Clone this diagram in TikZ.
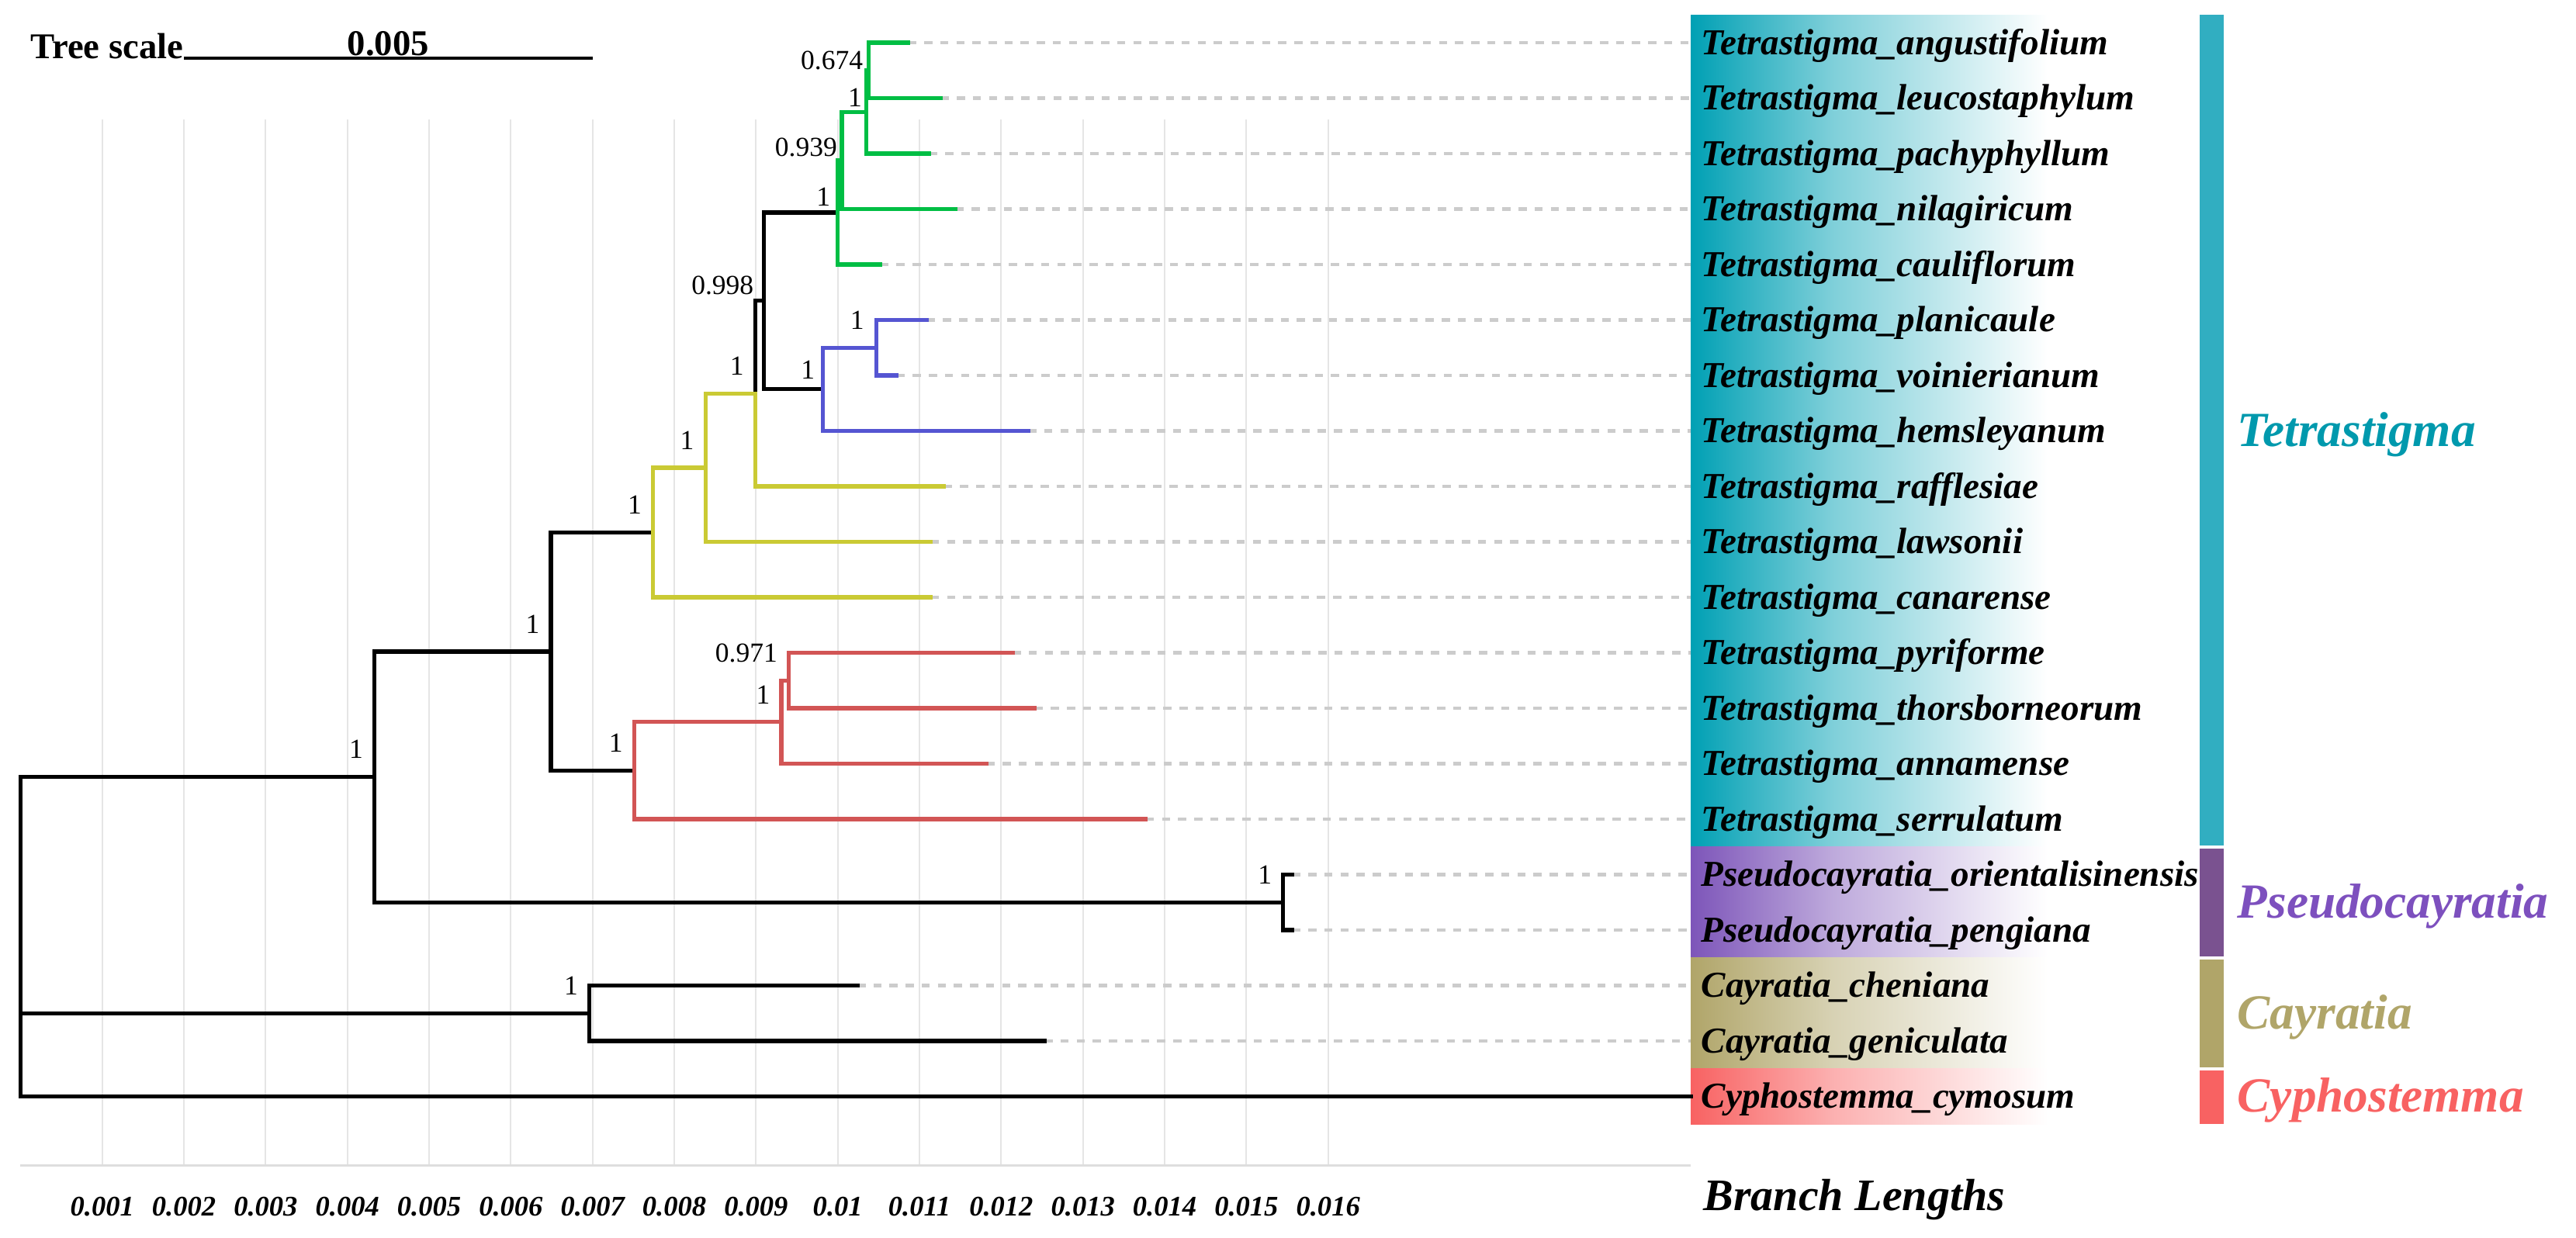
\documentclass[tikz,border=0pt]{standalone}
\usepackage{fontspec}
\setmainfont{Liberation Serif}
\usetikzlibrary{positioning}

\definecolor{grnc}{RGB}{0,190,68}
\definecolor{bluc}{RGB}{85,85,210}
\definecolor{yelc}{RGB}{202,202,52}
\definecolor{redc}{RGB}{210,85,85}
\definecolor{tetc}{RGB}{0,160,180}
\definecolor{tetbar}{RGB}{49,174,193}
\definecolor{tettxt}{RGB}{0,153,173}
\definecolor{psec}{RGB}{125,85,185}
\definecolor{psebar}{RGB}{122,82,144}
\definecolor{psetxt}{RGB}{125,80,190}
\definecolor{cayc}{RGB}{176,165,105}
\definecolor{cyphc}{RGB}{248,98,98}
\colorlet{fadec}{white}
\pgfdeclarehorizontalshading[fadec]{panelfade}{100bp}{color(0bp)=(fadec); color(25bp)=(fadec); color(43bp)=(fadec!50!white); color(70bp)=(white); color(100bp)=(white)}

\begin{document}
\begin{tikzpicture}[x=1cm, y=-0.715cm,
    edge/.style={line width=1.45pt, line cap=rect},
    leader/.style={draw=black!20, line width=1.15pt, dash pattern=on 3pt off 2.9pt},
    gridln/.style={draw=black!10, line width=0.55pt},
    tiplab/.style={anchor=base west, inner sep=0pt, font=\fontsize{13.4pt}{16pt}\selectfont\bfseries\itshape},
    grplab/.style={anchor=base west, inner sep=0pt, font=\fontsize{18pt}{21pt}\selectfont\bfseries\itshape},
    supp/.style={inner sep=0pt, font=\fontsize{10.1pt}{12pt}\selectfont},
    ticklab/.style={anchor=base, inner sep=0pt, font=\fontsize{10.4pt}{12pt}\selectfont\bfseries\itshape}]
  \useasboundingbox (0,0.2308) rectangle (33.2,22.552);

  \coordinate (pl) at (21.79,0.5); % left edge of the label panel

  \begin{scope}[x=1.0533cm, xshift=0.264cm]
    % grid and axis
    \foreach \g in {1,...,16} \draw[gridln] (\g,2.385) -- (\g,21.24);
    \coordinate (ax0) at (0,21.24);
    \coordinate (ax1) at (20.44,21.24);
    \draw[draw=black!13, line width=0.8pt] (ax0) -- (ax1);
    \foreach \g/\t in {1/0.001,2/0.002,3/0.003,4/0.004,5/0.005,6/0.006,7/0.007,8/0.008,
                       9/0.009,10/0.01,11/0.011,12/0.012,13/0.013,14/0.014,15/0.015,16/0.016}
      \node[ticklab] (tk\g) at (\g,22.15) {\t};

    % tree scale
    \coordinate (sb0) at (2,1.28);
    \coordinate (sb1) at (7,1.28);
    \coordinate (sbm) at (4.5,1.224);
    \draw[line width=1.4pt] (sb0) -- (sb1);
    \node[anchor=base east, inner sep=0pt, font=\fontsize{13.3pt}{15pt}\selectfont\bfseries] (tsl) at (sb0) {Tree scale};
    \node[anchor=base, inner sep=0pt, font=\fontsize{13.3pt}{15pt}\selectfont\bfseries] (tsv) at (sbm) {0.005};

    % tips
    \coordinate (t1) at (10.86,1);
    \coordinate (t2) at (11.26,2);
    \coordinate (t3) at (11.12,3);
    \coordinate (t4) at (11.44,4);
    \coordinate (t5) at (10.52,5);
    \coordinate (t6) at (11.09,6);
    \coordinate (t7) at (10.72,7);
    \coordinate (t8) at (12.33,8);
    \coordinate (t9) at (11.30,9);
    \coordinate (t10) at (11.14,10);
    \coordinate (t11) at (11.14,11);
    \coordinate (t12) at (12.14,12);
    \coordinate (t13) at (12.41,13);
    \coordinate (t14) at (11.82,14);
    \coordinate (t15) at (13.77,15);
    \coordinate (t16) at (15.56,16);
    \coordinate (t17) at (15.56,17);
    \coordinate (t18) at (10.24,18);
    \coordinate (t19) at (12.53,19);
    \coordinate (t20) at (20.44,20);

    % inner nodes
    \coordinate (g4) at (10.38,1.5);
    \coordinate (g3) at (10.35,2.25);
    \coordinate (g2) at (10.05,3.125);
    \coordinate (g1) at (10.00,4.0625);
    \coordinate (b2) at (10.47,6.5);
    \coordinate (b1) at (9.82,7.25);
    \coordinate (k) at (9.10,5.656);
    \coordinate (y3) at (8.99,7.328);
    \coordinate (y2) at (8.38,8.664);
    \coordinate (y1) at (7.74,9.832);
    \coordinate (r3) at (9.40,12.5);
    \coordinate (r2) at (9.31,13.25);
    \coordinate (r1) at (7.51,14.125);
    \coordinate (tet) at (6.49,11.979);
    \coordinate (pse) at (15.45,16.5);
    \coordinate (ingr) at (4.33,14.24);
    \coordinate (cay) at (6.96,18.5);
    \coordinate (root) at (0,17.12);

    % leaders to the panel
    \foreach \i in {1,...,19} \draw[leader] (t\i) -- (t\i -| pl);
  \end{scope}

  % label panel
  \colorlet{fadec}{tetc}\shade[shading=panelfade] (21.79,0.5) rectangle (26.9,15.5);
  \colorlet{fadec}{psec}\shade[shading=panelfade] (21.79,15.5) rectangle (26.9,17.5);
  \colorlet{fadec}{cayc}\shade[shading=panelfade] (21.79,17.5) rectangle (26.9,19.5);
  \colorlet{fadec}{cyphc}\shade[shading=panelfade] (21.79,19.5) rectangle (26.9,20.5);

  % branches
  \draw[edge] (root) |- (ingr);
  \draw[edge] (root) |- (cay);
  \draw[edge] (root) |- (t20);
  \draw[edge] (ingr) |- (tet);
  \draw[edge] (ingr) |- (pse);
  \draw[edge] (pse) |- (t16);
  \draw[edge] (pse) |- (t17);
  \draw[edge] (cay) |- (t18);
  \draw[edge] (cay) |- (t19);
  \draw[edge] (tet) |- (y1);
  \draw[edge] (tet) |- (r1);
  \draw[edge] (y3) |- (k);
  \draw[edge] (k) |- (g1);
  \draw[edge] (k) |- (b1);

  \draw[edge, yelc] (y1) |- (y2);
  \draw[edge, yelc] (y1) |- (t11);
  \draw[edge, yelc] (y2) |- (y3);
  \draw[edge, yelc] (y2) |- (t10);
  \draw[edge, yelc] (y3) |- (t9);

  \draw[edge, grnc] (g1) |- (g2);
  \draw[edge, grnc] (g1) |- (t5);
  \draw[edge, grnc] (g2) |- (g3);
  \draw[edge, grnc] (g2) |- (t4);
  \draw[edge, grnc] (g3) |- (g4);
  \draw[edge, grnc] (g3) |- (t3);
  \draw[edge, grnc] (g4) |- (t1);
  \draw[edge, grnc] (g4) |- (t2);

  \draw[edge, bluc] (b1) |- (b2);
  \draw[edge, bluc] (b1) |- (t8);
  \draw[edge, bluc] (b2) |- (t6);
  \draw[edge, bluc] (b2) |- (t7);

  \draw[edge, redc] (r1) |- (r2);
  \draw[edge, redc] (r1) |- (t15);
  \draw[edge, redc] (r2) |- (r3);
  \draw[edge, redc] (r2) |- (t14);
  \draw[edge, redc] (r3) |- (t12);
  \draw[edge, redc] (r3) |- (t13);

  % support values
  \node[supp, above left=0.23cm and 0.14cm of ingr] (sIngr) {1};
  \node[supp, above left=0.23cm and 0.14cm of tet] (sTet) {1};
  \node[supp, above left=0.23cm and 0.14cm of y1] (sY1) {1};
  \node[supp, above left=0.23cm and 0.14cm of y2] (sY2) {1};
  \node[supp, above left=0.23cm and 0.14cm of y3] (sY3) {1};
  \node[supp, above left=0.075cm and 0.13cm of k] (sK) {0.998};
  \node[supp, above left=0.075cm and 0.09cm of g1] (sG1) {1};
  \node[supp, above left=0.04cm and 0.055cm of g2] (sG2) {0.939};
  \node[supp, above left=0.065cm and 0.05cm of g3] (sG3) {1};
  \node[supp, above left=0cm and 0.07cm of g4] (sG4) {0.674};
  \node[supp, above left=0.125cm and 0.10cm of b1] (sB1) {1};
  \node[supp, above left=0.23cm and 0.15cm of b2] (sB2) {1};
  \node[supp, above left=0.23cm and 0.14cm of r1] (sR1) {1};
  \node[supp, above left=0.23cm and 0.14cm of r2] (sR2) {1};
  \node[supp, above left=0.23cm and 0.14cm of r3] (sR3) {0.971};
  \node[supp, above left=0.23cm and 0.14cm of pse] (sPse) {1};
  \node[supp, above left=0.23cm and 0.14cm of cay] (sCay) {1};

  % tip labels
  \foreach \i/\nm in {1/angustifolium,2/leucostaphylum,3/pachyphyllum,4/nilagiricum,5/cauliflorum,
                      6/planicaule,7/voinierianum,8/hemsleyanum,9/rafflesiae,10/lawsonii,11/canarense,
                      12/pyriforme,13/thorsborneorum,14/annamense,15/serrulatum}
    \node[tiplab] (l\i) at (21.92,\i+0.21) {Tetrastigma\_\nm};
  \node[tiplab] (l16) at (21.92,16.21) {Pseudocayratia\_orientalisinensis};
  \node[tiplab] (l17) at (21.92,17.21) {Pseudocayratia\_pengiana};
  \node[tiplab] (l18) at (21.92,18.21) {Cayratia\_cheniana};
  \node[tiplab] (l19) at (21.92,19.21) {Cayratia\_geniculata};
  \node[tiplab] (l20) at (21.92,20.21) {Cyphostemma\_cymosum};

  % genus bars
  \fill[tetbar] (28.35,0.5) rectangle (28.66,15.47);
  \fill[psebar] (28.35,15.53) rectangle (28.66,17.47);
  \fill[cayc] (28.35,17.53) rectangle (28.66,19.47);
  \fill[cyphc] (28.35,19.53) rectangle (28.66,20.5);

  \node[grplab, text=tettxt] (gTet) at (28.83,8.28) {Tetrastigma};
  \node[grplab, text=psetxt] (gPse) at (28.83,16.78) {Pseudocayratia};
  \node[grplab, text=cayc] (gCay) at (28.83,18.78) {Cayratia};
  \node[grplab, text=cyphc] (gCyph) at (28.83,20.28) {Cyphostemma};

  \node[anchor=base west, inner sep=0pt, font=\fontsize{16.5pt}{19pt}\selectfont\bfseries\itshape] (blen) at (21.95,22.06) {Branch Lengths};
\end{tikzpicture}
\end{document}
